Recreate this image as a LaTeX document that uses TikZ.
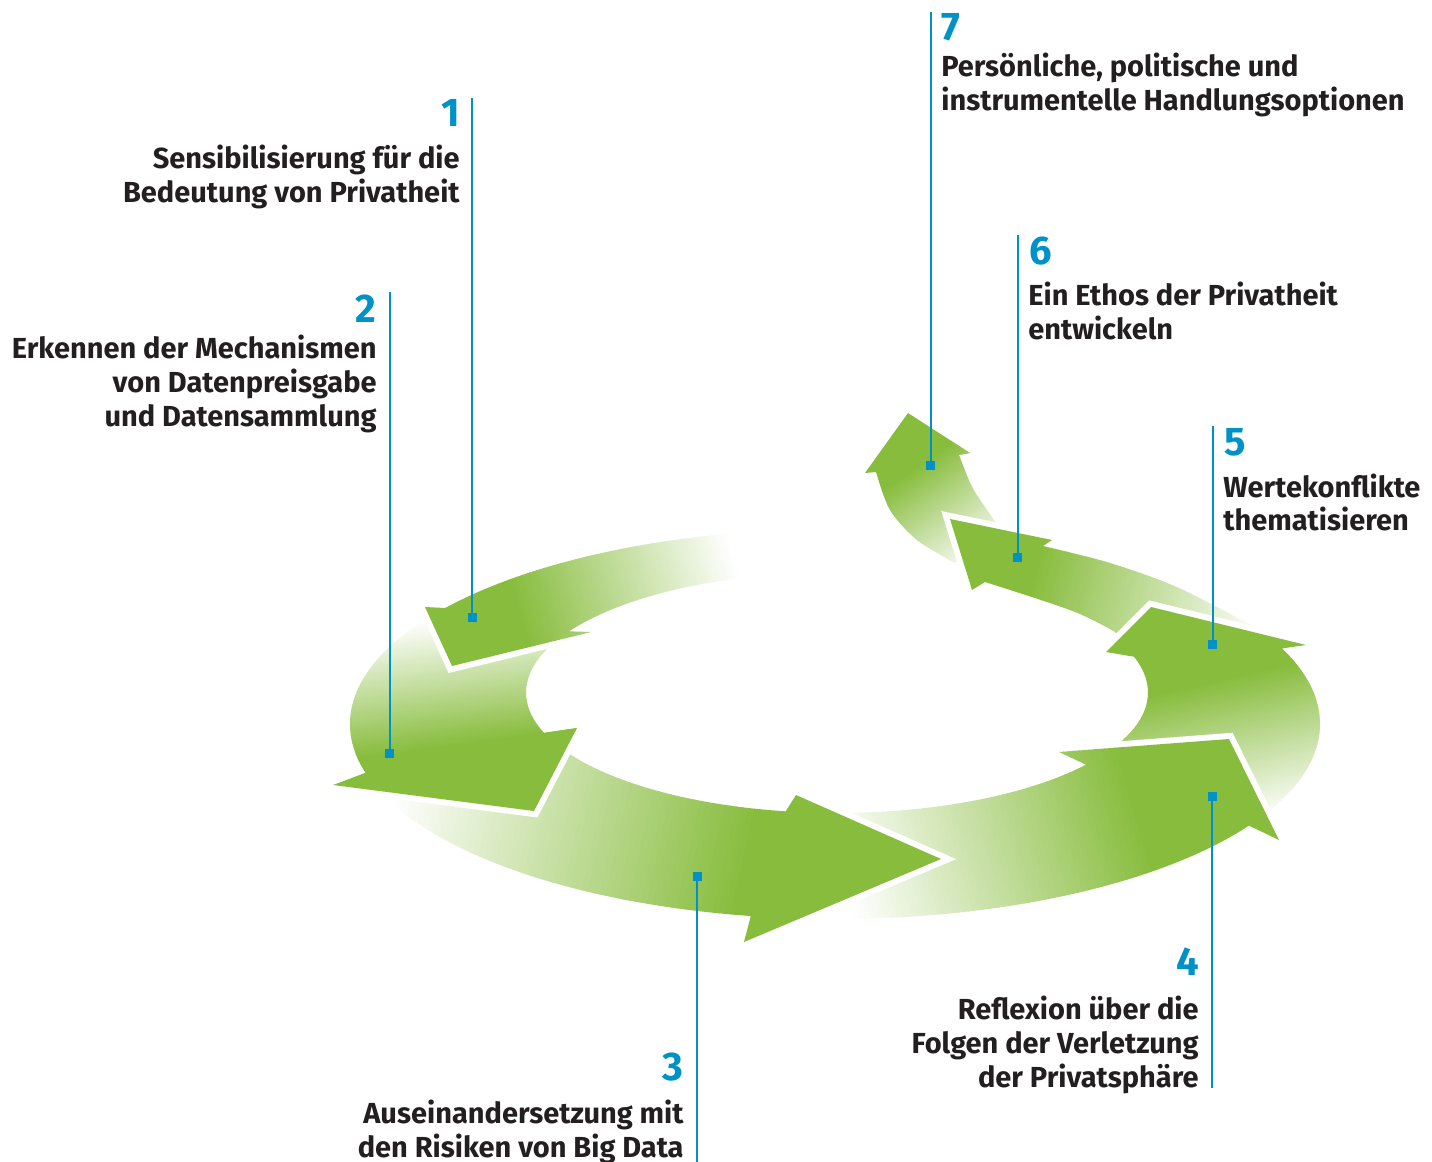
\documentclass[tikz,border=0pt]{standalone}
\usepackage{fontspec}
\setmainfont{Fira Sans}
\definecolor{arrowgreen}{RGB}{135,188,60}
\definecolor{leadblue}{RGB}{0,146,199}
\definecolor{textdark}{RGB}{35,31,32}
\newcommand\lblfont{\fontsize{14.5pt}{17pt}\selectfont\bfseries}
\newcommand\numfont{\fontsize{20pt}{24pt}\selectfont\bfseries}
\newcommand\greenarrow[5]{%
  \draw[white, line width=6pt, line join=miter, miter limit=8] #1;
  \pgfmathsetmacro\gdx{(#4-#2)/100}%
  \pgfmathsetmacro\gdy{(#5-#3)/100}%
  \pgfmathsetmacro\gang{atan2(-\gdy,\gdx)}%
  \pgfmathsetmacro\glen{100*sqrt(\gdx*\gdx+\gdy*\gdy)}%
  \pgfmathsetmacro\gstep{\glen/60}%
  \begin{scope}
    \clip #1;
    \begin{scope}[shift={(#2,#3)}, rotate=\gang]
      \foreach \i in {0,...,59} {
        \pgfmathsetmacro\gpc{(100*\i+50)/60}
        \fill[arrowgreen!\gpc!white] ({\i*\gstep},-500) rectangle ({(\i+1)*\gstep+0.8},500);
      }
      \fill[arrowgreen] (\glen,-500) rectangle (\glen+900,500);
    \end{scope}
  \end{scope}}
\tikzset{
  lead/.style={draw=leadblue, line width=1pt},
  sq/.style={fill=leadblue, minimum size=4.5pt, inner sep=0pt, outer sep=0pt},
  lbl/.style={font=\lblfont, text=textdark, inner sep=0pt},
  num/.style={font=\numfont, text=leadblue, inner sep=0pt}
}
\begin{document}
\begin{tikzpicture}[x=0.5pt, y=-0.5pt]
\useasboundingbox (0,0) rectangle (1432,1162);
% arrow 7
\greenarrow{plot[smooth] coordinates {(955,563) (917,540) (890,510) (876,472)} -- (865,473) -- (908,413) -- (970,453) -- plot[smooth] coordinates {(959,455) (972,487) (987,510) (999,527)} -- cycle}{985}{560}{918}{465}
% arrow 6
\greenarrow{plot[smooth] coordinates {(1262,631) (1179,588) (1110,563) (1043,546)} -- (1052,540) -- (950,519) -- (972,590) -- plot[smooth] coordinates {(985,582) (1041,600) (1080,614) (1115,632) (1135,648)} -- cycle}{1265}{628}{1035}{566}
% arrow 5
\greenarrow{plot[domain=-28:22.8, samples=40, variable=\t] ({835+485*cos(\t)},{724-195*sin(\t)}) -- (1306,645) -- (1151,607) -- (1106,652) -- plot[domain=17.3:-34, samples=40, variable=\t] ({837+311*cos(\t)},{692.5-120.5*sin(\t)}) -- cycle}{1285}{815}{1252}{672}
% arrow 4
\greenarrow{plot[domain=-94.5:-31.4, samples=40, variable=\t] ({835+485*cos(\t)},{724-195*sin(\t)}) -- (1279,840) -- (1229,739) -- (1059,752) -- plot[domain=-36.8:-92, samples=40, variable=\t] ({837+311*cos(\t)},{692.5-120.5*sin(\t)}) -- cycle}{845}{885}{1135}{800}
% arrow 3
\greenarrow{plot[domain=198:260, samples=40, variable=\t] ({835+485*cos(\t)},{724-195*sin(\t)}) -- (744,942) -- (941,859) -- (796,795) -- plot[domain=260.5:205, samples=40, variable=\t] ({837+311*cos(\t)},{692.5-120.5*sin(\t)}) -- cycle}{392}{800}{745}{878}
% arrow 2
\greenarrow{plot[domain=145:194.5, samples=40, variable=\t] ({835+485*cos(\t)},{724-195*sin(\t)}) -- (333,785) -- (534,811) -- (577,728) -- plot[domain=199.6:150, samples=40, variable=\t] ({837+311*cos(\t)},{692.5-120.5*sin(\t)}) -- cycle}{398}{625}{415}{752}
% arrow 1
\greenarrow{plot[domain=97:143.5, samples=40, variable=\t] ({835+485*cos(\t)},{724-195*sin(\t)}) -- (425,607) -- (452,666) -- (591,632) -- plot[domain=149.5:105, samples=40, variable=\t] ({837+311*cos(\t)},{692.5-120.5*sin(\t)}) -- cycle}{730}{545}{515}{603}

% leader lines
\coordinate (c1) at (472,97.7);
\coordinate (c2) at (389.5,292);
\coordinate (c3) at (697,1162);
\coordinate (c4) at (1212,1088);
\coordinate (c5) at (1212.5,426);
\coordinate (c6) at (1017.5,235);
\coordinate (c7) at (930.5,12);
\node[sq] (s1) at (472,617) {};
\node[sq] (s2) at (389.5,753) {};
\node[sq] (s3) at (697,876) {};
\node[sq] (s4) at (1212,796) {};
\node[sq] (s5) at (1212.5,644) {};
\node[sq] (s6) at (1017.5,557) {};
\node[sq] (s7) at (930.5,465) {};
\draw[lead] (c1) -- (s1.center);
\draw[lead] (c2) -- (s2.center);
\draw[lead] (s3.center) -- (c3);
\draw[lead] (s4.center) -- (c4);
\draw[lead] (c5) -- (s5.center);
\draw[lead] (c6) -- (s6.center);
\draw[lead] (c7) -- (s7.center);

% labels
\node[num, anchor=base east] (n1) at (460,126) {1};
\node[lbl, anchor=base east] (t1a) at (460,168) {Sensibilisierung für die};
\node[lbl, anchor=base east] (t1b) at (460,202) {Bedeutung von Privatheit};

\node[num, anchor=base east] (n2) at (377,322) {2};
\node[lbl, anchor=base east] (t2a) at (377,358.3) {Erkennen der Mechanismen};
\node[lbl, anchor=base east] (t2b) at (377,392) {von Datenpreisgabe};
\node[lbl, anchor=base east] (t2c) at (377,426) {und Datensammlung};

\node[num, anchor=base east] (n3) at (684,1080) {3};
\node[lbl, anchor=base east] (t3a) at (684,1123.5) {Auseinandersetzung mit};
\node[lbl, anchor=base east] (t3b) at (684,1157) {den Risiken von Big Data};

\node[num, anchor=base east] (n4) at (1199,975.4) {4};
\node[lbl, anchor=base east] (t4a) at (1199,1019) {Reflexion über die};
\node[lbl, anchor=base east] (t4b) at (1199,1053) {Folgen der Verletzung};
\node[lbl, anchor=base east] (t4c) at (1199,1087) {der Privatsphäre};

\node[num, anchor=base west] (n5) at (1224,455) {5};
\node[lbl, anchor=base west] (t5a) at (1223,497) {Wertekonflikte};
\node[lbl, anchor=base west] (t5b) at (1223,530.5) {thematisieren};

\node[num, anchor=base west] (n6) at (1029,264.3) {6};
\node[lbl, anchor=base west] (t6a) at (1028,305.7) {Ein Ethos der Privatheit};
\node[lbl, anchor=base west] (t6b) at (1028,339.5) {entwickeln};

\node[num, anchor=base west] (n7) at (941,40) {7};
\node[lbl, anchor=base west] (t7a) at (941,76.7) {Persönliche, politische und};
\node[lbl, anchor=base west] (t7b) at (941,110) {instrumentelle Handlungsoptionen};
\end{tikzpicture}
\end{document}
